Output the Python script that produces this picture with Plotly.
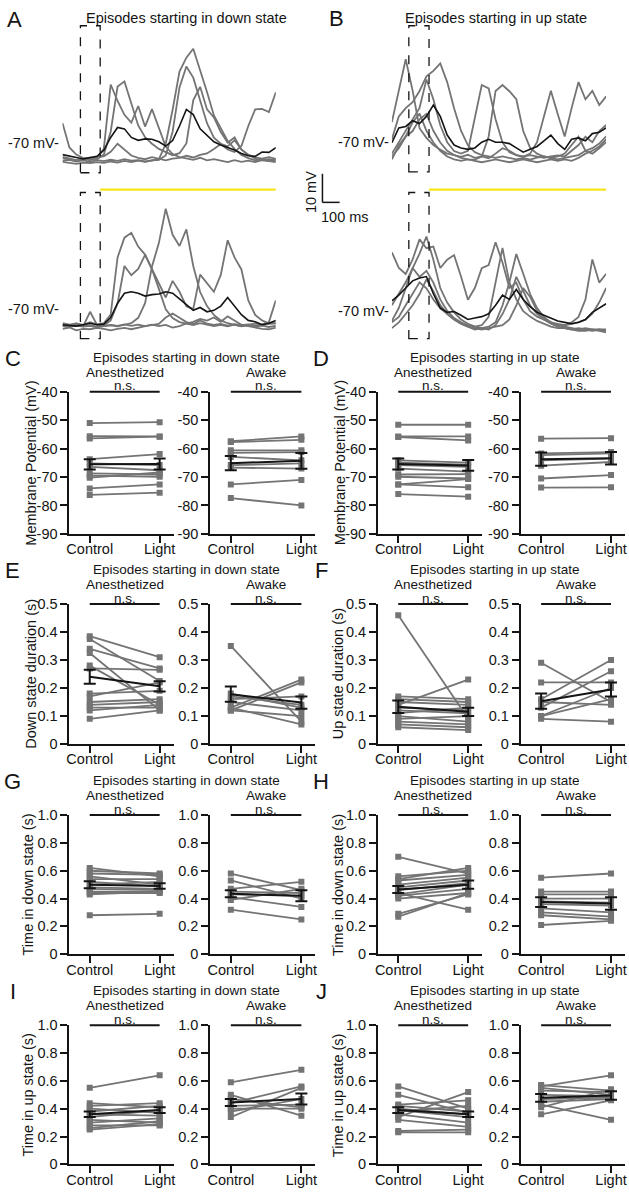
import plotly.graph_objects as go

# ------------------------------------------------------------------ data
# example membrane-potential traces (mV), sampled every 40 ms
time_ms = [0, 40, 80, 120, 160, 200, 240, 280, 320, 360, 400, 440, 480, 520, 560, 600,
           640, 680, 720, 760, 800, 840, 880, 920, 960, 1000, 1040, 1080, 1120, 1160, 1200, 1240]

# A: episodes starting in down state, control (top)
a_ctrl_1 = [-63.0, -71.5, -74.0, -75.2, -75.6, -74.8, -74.6, -73.0, -70.2, -72.1, -74.3, -75.1, -75.6, -74.9, -75.5, -76.0,
            -75.4, -75.1, -74.4, -75.0, -74.1, -73.6, -72.0, -70.3, -72.2, -73.1, -71.0, -64.0, -58.2, -58.0, -59.1, -52.2]
a_ctrl_2 = [-75.2, -75.6, -76.1, -75.4, -76.0, -75.1, -72.0, -49.5, -55.2, -60.1, -62.8, -57.0, -64.2, -58.1, -65.0, -71.2,
            -73.8, -74.9, -75.3, -75.8, -75.1, -76.0, -75.6, -76.2, -76.6, -75.9, -76.5, -76.1, -76.6, -75.9, -75.6, -76.2]
a_ctrl_3 = [-74.8, -75.3, -75.9, -75.5, -75.1, -75.6, -74.0, -66.0, -50.2, -48.4, -56.1, -63.8, -67.9, -70.2, -72.0, -73.1,
            -74.2, -73.5, -70.1, -55.0, -50.3, -58.2, -61.0, -66.1, -69.8, -68.0, -72.3, -74.1, -75.0, -75.4, -74.9, -75.5]
a_ctrl_4 = [-76.1, -75.8, -76.4, -76.0, -76.5, -75.9, -76.3, -75.8, -76.2, -75.6, -76.1, -75.9, -76.4, -76.0, -75.7, -70.2,
            -58.3, -45.0, -40.1, -37.0, -44.2, -52.1, -60.3, -65.0, -69.2, -72.0, -74.1, -75.2, -76.0, -75.6, -76.2, -75.7]
a_ctrl_5 = [-76.5, -76.9, -77.2, -76.8, -77.0, -76.6, -76.9, -76.4, -76.8, -76.2, -76.6, -76.1, -76.5, -76.0, -75.8, -74.3,
            -66.0, -50.5, -43.2, -47.1, -55.3, -63.0, -68.1, -70.2, -71.1, -69.0, -72.2, -74.0, -75.4, -76.0, -76.3, -76.6]
a_ctrl_mean = [-74.0, -74.6, -75.0, -75.5, -75.1, -74.6, -72.5, -68.0, -64.5, -65.0, -68.0, -69.0, -68.5, -68.6, -69.5, -71.0,
               -69.1, -64.0, -58.2, -60.0, -65.0, -67.4, -69.5, -70.6, -71.5, -72.4, -73.6, -74.4, -74.6, -73.1, -73.2, -71.6]

# A: light (bottom)
a_light_1 = [-75.0, -75.5, -75.1, -75.6, -74.6, -75.4, -75.0, -72.0, -52.0, -45.1, -43.4, -48.2, -51.0, -56.1, -63.0, -70.1,
             -73.2, -74.6, -75.1, -75.6, -75.0, -75.4, -76.0, -75.6, -76.1, -75.5, -76.0, -75.6, -75.1, -75.5, -74.6, -67.0]
a_light_2 = [-76.0, -76.3, -75.8, -76.2, -75.9, -76.4, -76.0, -75.7, -76.1, -75.6, -75.0, -73.1, -68.0, -55.2, -47.0, -35.0,
             -44.1, -48.0, -42.2, -55.0, -64.1, -69.0, -72.1, -74.0, -75.0, -75.6, -76.1, -75.7, -76.2, -75.8, -76.3, -75.9]
a_light_3 = [-75.8, -76.1, -75.6, -76.0, -75.7, -76.2, -75.8, -74.0, -68.1, -55.0, -58.2, -56.0, -51.1, -56.0, -61.1, -66.0,
             -60.2, -64.0, -69.1, -70.0, -58.0, -61.2, -64.0, -58.1, -46.0, -52.0, -56.2, -67.0, -72.1, -74.0, -75.1, -75.0]
a_light_4 = [-75.7, -76.0, -75.1, -76.1, -71.0, -75.5, -76.0, -75.6, -75.9, -75.4, -75.9, -75.5, -76.0, -75.6, -75.2, -73.0,
             -71.6, -73.1, -74.6, -75.3, -74.0, -75.1, -75.6, -75.2, -75.8, -75.3, -75.7, -75.4, -75.9, -75.5, -75.1, -75.0]
a_light_5 = [-77.0, -76.5, -77.5, -77.0, -77.1, -76.6, -77.0, -77.5, -77.0, -76.6, -77.1, -76.5, -76.1, -75.5, -76.0, -75.6,
             -76.5, -76.0, -75.1, -74.5, -73.5, -74.1, -73.0, -74.5, -72.6, -74.0, -75.5, -76.0, -76.6, -77.0, -77.1, -76.5]
a_light_mean = [-75.5, -75.8, -76.0, -75.5, -75.0, -75.5, -75.3, -73.0, -68.0, -64.5, -64.0, -64.5, -65.5, -65.0, -64.8, -64.0,
                -64.5, -66.5, -68.5, -70.5, -69.5, -71.0, -70.5, -69.0, -66.0, -69.0, -72.0, -74.0, -74.5, -75.5, -75.0, -74.0]

# B: episodes starting in up state, control (top)
b_ctrl_1 = [-63.0, -52.1, -41.0, -52.0, -65.1, -68.5, -71.0, -72.6, -74.0, -74.5, -75.1, -74.4, -75.5, -75.0, -75.6, -74.0,
            -72.1, -73.0, -74.5, -75.1, -74.0, -70.0, -61.1, -52.0, -60.2, -68.0, -58.1, -49.0, -55.0, -52.1, -57.0, -54.0]
b_ctrl_2 = [-69.0, -61.0, -58.1, -56.0, -52.1, -47.0, -45.1, -42.5, -49.0, -58.1, -66.0, -71.1, -73.5, -74.5, -75.0, -75.5,
            -75.0, -75.6, -76.0, -75.5, -76.1, -75.4, -75.0, -75.6, -76.0, -75.5, -75.0, -74.5, -73.0, -72.1, -70.5, -68.0]
b_ctrl_3 = [-74.0, -70.1, -66.0, -62.1, -58.0, -48.1, -55.0, -64.1, -70.0, -73.1, -74.0, -73.0, -62.1, -50.0, -51.2, -62.0,
            -70.1, -73.5, -74.5, -75.0, -74.5, -75.1, -75.5, -75.0, -74.6, -75.0, -73.1, -71.0, -68.1, -70.0, -66.1, -64.0]
b_ctrl_4 = [-76.0, -71.1, -68.0, -66.1, -62.0, -60.1, -66.0, -70.1, -73.0, -74.5, -75.5, -76.0, -76.1, -75.0, -68.0, -52.1,
            -50.0, -52.2, -55.0, -66.1, -72.0, -74.0, -75.0, -75.5, -75.0, -74.0, -71.0, -68.1, -73.0, -74.0, -72.1, -70.0]
b_ctrl_5 = [-75.0, -72.1, -68.0, -63.1, -60.0, -66.0, -70.1, -73.0, -75.0, -76.0, -76.5, -76.0, -76.5, -77.0, -76.5, -76.0,
            -76.5, -77.0, -76.5, -76.0, -76.5, -77.0, -76.5, -76.0, -76.5, -76.0, -76.5, -75.5, -74.0, -73.0, -71.5, -69.0]
b_ctrl_mean = [-70.2, -65.0, -64.5, -62.5, -63.5, -61.0, -57.0, -61.0, -67.5, -71.0, -72.0, -72.5, -72.0, -70.0, -69.0, -70.0,
               -70.0, -70.5, -72.0, -73.5, -72.5, -71.5, -69.5, -67.5, -70.5, -72.5, -69.0, -68.5, -69.5, -67.0, -66.5, -65.0]

# B: light (bottom)
b_light_1 = [-49.5, -55.0, -57.1, -52.0, -45.0, -48.1, -47.5, -55.0, -52.1, -50.5, -58.0, -66.1, -62.0, -55.1, -54.0, -46.0,
             -53.1, -62.0, -60.1, -66.0, -70.1, -72.0, -73.1, -74.0, -74.5, -75.0, -74.5, -74.0, -73.1, -71.0, -67.0, -62.0]
b_light_2 = [-68.0, -64.1, -60.0, -55.1, -50.0, -44.0, -52.1, -62.0, -67.1, -70.5, -73.0, -74.5, -75.5, -76.0, -75.5, -74.0,
             -68.1, -60.0, -50.1, -57.0, -64.1, -69.0, -72.1, -74.0, -75.0, -75.5, -76.0, -76.5, -76.0, -76.5, -76.5, -77.0]
b_light_3 = [-73.5, -69.0, -62.1, -55.0, -58.1, -56.0, -60.1, -66.0, -70.0, -72.5, -74.0, -75.0, -75.5, -75.0, -72.1, -60.0,
             -48.0, -60.1, -66.0, -70.1, -72.0, -73.5, -74.5, -75.5, -76.0, -76.0, -76.5, -76.0, -76.5, -77.0, -76.5, -76.5]
b_light_4 = [-74.0, -72.1, -68.0, -64.1, -60.0, -62.1, -66.0, -69.1, -71.0, -73.0, -74.5, -75.5, -76.0, -76.5, -76.0, -75.5,
             -75.0, -73.0, -68.1, -62.0, -65.1, -70.0, -72.5, -74.0, -75.0, -75.0, -74.0, -72.1, -66.0, -52.0, -60.1, -57.0]
b_light_5 = [-76.0, -74.0, -71.1, -68.0, -64.1, -59.0, -63.1, -68.0, -71.0, -73.0, -74.5, -75.5, -76.5, -76.0, -76.5, -75.0,
             -71.1, -66.0, -58.1, -63.0, -68.1, -71.0, -73.0, -74.5, -75.5, -76.0, -76.5, -77.0, -77.0, -76.5, -77.0, -77.5]
b_light_mean = [-66.5, -64.5, -62.0, -59.5, -58.5, -58.0, -64.0, -69.0, -70.5, -70.2, -71.5, -73.0, -72.5, -72.0, -71.0, -68.0,
                -64.5, -66.0, -62.5, -66.0, -68.5, -70.5, -71.5, -72.5, -73.5, -74.0, -74.5, -74.0, -73.0, -70.5, -69.0, -67.5]

# analysis window and light onset (ms)
a_window_ms = [104, 219]
b_window_ms = [98, 215]
scale_mv = 10
scale_ms = 100

# summary panels: paired values (Control, Light), mean and SEM
conditions = ["Control", "Light"]

C_anes_ctrl = [-51.0, -55.6, -56.4, -63.7, -65.2, -66.4, -68.7, -69.5, -70.2, -74.0, -76.3]
C_anes_light = [-50.7, -55.7, -55.8, -61.9, -65.8, -67.6, -69.1, -69.9, -68.4, -72.6, -75.5]
C_anes_mean, C_anes_sem = [-65.5, -65.4], [1.8, 1.9]
C_awake_ctrl = [-57.4, -57.7, -60.6, -61.5, -62.9, -65.8, -66.7, -72.6, -77.4]
C_awake_light = [-55.7, -56.9, -60.6, -61.2, -64.1, -65.2, -67.0, -71.0, -80.0]
C_awake_mean, C_awake_sem = [-65.1, -64.3], [2.5, 2.8]

D_anes_ctrl = [-51.6, -55.7, -55.9, -64.1, -64.9, -65.8, -67.0, -69.1, -69.9, -72.6, -72.6, -76.0]
D_anes_light = [-51.6, -55.7, -57.1, -64.9, -65.6, -66.4, -68.1, -69.0, -70.5, -70.7, -73.6, -76.9]
D_anes_mean, D_anes_sem = [-65.4, -65.9], [1.9, 1.9]
D_awake_ctrl = [-56.5, -61.7, -62.3, -64.1, -66.0, -70.5, -73.7]
D_awake_light = [-56.3, -61.2, -61.7, -63.5, -64.7, -69.3, -73.6]
D_awake_mean, D_awake_sem = [-63.7, -63.4], [2.3, 2.2]

E_anes_ctrl = [0.385, 0.375, 0.34, 0.325, 0.28, 0.27, 0.18, 0.17, 0.15, 0.14, 0.13, 0.12, 0.09]
E_anes_light = [0.31, 0.225, 0.27, 0.12, 0.14, 0.265, 0.19, 0.22, 0.16, 0.15, 0.13, 0.14, 0.12]
E_anes_mean, E_anes_sem = [0.24, 0.206], [0.025, 0.018]
E_awake_ctrl = [0.35, 0.13, 0.12, 0.17, 0.16, 0.15, 0.18, 0.12, 0.13]
E_awake_light = [0.08, 0.23, 0.22, 0.14, 0.17, 0.12, 0.13, 0.10, 0.07]
E_awake_mean, E_awake_sem = [0.178, 0.148], [0.027, 0.022]

F_anes_ctrl = [0.46, 0.17, 0.16, 0.15, 0.14, 0.13, 0.12, 0.11, 0.10, 0.09, 0.08, 0.07, 0.06]
F_anes_light = [0.09, 0.16, 0.15, 0.14, 0.23, 0.12, 0.11, 0.13, 0.08, 0.10, 0.07, 0.06, 0.05]
F_anes_mean, F_anes_sem = [0.133, 0.115], [0.022, 0.015]
F_awake_ctrl = [0.29, 0.22, 0.16, 0.15, 0.13, 0.10, 0.10, 0.09]
F_awake_light = [0.15, 0.22, 0.30, 0.14, 0.26, 0.20, 0.16, 0.08]
F_awake_mean, F_awake_sem = [0.153, 0.195], [0.027, 0.025]

G_anes_ctrl = [0.62, 0.60, 0.58, 0.56, 0.54, 0.52, 0.50, 0.48, 0.47, 0.45, 0.44, 0.43, 0.28]
G_anes_light = [0.56, 0.58, 0.57, 0.50, 0.54, 0.49, 0.52, 0.47, 0.46, 0.45, 0.44, 0.45, 0.29]
G_anes_mean, G_anes_sem = [0.50, 0.49], [0.025, 0.02]
G_awake_ctrl = [0.58, 0.53, 0.47, 0.45, 0.43, 0.41, 0.39, 0.32]
G_awake_light = [0.46, 0.40, 0.52, 0.44, 0.42, 0.34, 0.47, 0.25]
G_awake_mean, G_awake_sem = [0.435, 0.42], [0.025, 0.04]

H_anes_ctrl = [0.70, 0.56, 0.54, 0.53, 0.50, 0.48, 0.46, 0.44, 0.43, 0.42, 0.40, 0.29, 0.27]
H_anes_light = [0.58, 0.60, 0.62, 0.57, 0.55, 0.53, 0.51, 0.32, 0.50, 0.47, 0.44, 0.43, 0.44]
H_anes_mean, H_anes_sem = [0.465, 0.50], [0.025, 0.03]
H_awake_ctrl = [0.55, 0.45, 0.43, 0.40, 0.38, 0.36, 0.33, 0.30, 0.28, 0.21]
H_awake_light = [0.58, 0.45, 0.43, 0.40, 0.37, 0.35, 0.30, 0.27, 0.25, 0.24]
H_awake_mean, H_awake_sem = [0.375, 0.365], [0.035, 0.045]

I_anes_ctrl = [0.55, 0.44, 0.42, 0.40, 0.38, 0.36, 0.34, 0.32, 0.30, 0.28, 0.26, 0.25]
I_anes_light = [0.64, 0.41, 0.44, 0.37, 0.42, 0.35, 0.39, 0.30, 0.33, 0.28, 0.31, 0.29]
I_anes_mean, I_anes_sem = [0.36, 0.39], [0.02, 0.02]
I_awake_ctrl = [0.59, 0.50, 0.47, 0.44, 0.42, 0.40, 0.38, 0.34]
I_awake_light = [0.68, 0.35, 0.41, 0.56, 0.43, 0.40, 0.47, 0.55]
I_awake_mean, I_awake_sem = [0.445, 0.47], [0.025, 0.04]

J_anes_ctrl = [0.56, 0.50, 0.43, 0.42, 0.40, 0.39, 0.38, 0.36, 0.34, 0.32, 0.24, 0.23]
J_anes_light = [0.40, 0.37, 0.46, 0.38, 0.36, 0.34, 0.42, 0.30, 0.52, 0.27, 0.25, 0.23]
J_anes_mean, J_anes_sem = [0.39, 0.36], [0.02, 0.02]
J_awake_ctrl = [0.57, 0.56, 0.55, 0.53, 0.50, 0.47, 0.45, 0.43, 0.41, 0.36]
J_awake_light = [0.53, 0.64, 0.50, 0.52, 0.49, 0.48, 0.47, 0.32, 0.54, 0.46]
J_awake_mean, J_awake_sem = [0.478, 0.495], [0.028, 0.03]

mv_ticks = [-90, -80, -70, -60, -50, -40]
mv_labels = ["-90", "-80", "-70", "-60", "-50", "-40"]
dur_ticks = [0, 0.1, 0.2, 0.3, 0.4, 0.5]
dur_labels = ["0", "0.1", "0.2", "0.3", "0.4", "0.5"]
frac_ticks = [0, 0.2, 0.4, 0.6, 0.8, 1.0]
frac_labels = ["0", "0.2", "0.4", "0.6", "0.8", "1.0"]

# ------------------------------------------------------------------ style / layout helpers
W, H = 629, 1200
FONT = "Liberation Sans, Arial, Helvetica, sans-serif"
GRAY = "#747474"
BLACK = "#141414"
YELLOW = "#f6e41c"
FS = 14.5
FS_HEAD = 13.5


def fx(p):
    return p / W


def fy(p):
    return 1 - p / H


def sfx(n):
    return "" if n == 1 else str(n)


fig = go.Figure()
layout = {}
ann = []
shp = []


def text(x, y, s, size=FS, xref="paper", yref="paper", angle=0, xanchor="center"):
    ann.append(dict(x=x, y=y, xref=xref, yref=yref, text=s, showarrow=False,
                    font=dict(family=FONT, size=size, color=BLACK), textangle=angle,
                    xanchor=xanchor, yanchor="middle", borderpad=0))


# ------------------------------------------------------------------ example traces
PPM = 2.9  # px per mV
t_end = time_ms[-1]
trace_panels = [
    # n, x0, x1, ytop, ybot, y(-70 mV), label right edge, trials, mean, window, dashed box
    (1, 60, 275, 15, 175, 137, 57, [a_ctrl_1, a_ctrl_2, a_ctrl_3, a_ctrl_4, a_ctrl_5], a_ctrl_mean, a_window_ms, (18, 167)),
    (2, 60, 275, 185, 340, 305, 57, [a_light_1, a_light_2, a_light_3, a_light_4, a_light_5], a_light_mean, a_window_ms, (187, 335)),
    (3, 392, 608, 15, 175, 136, 390, [b_ctrl_1, b_ctrl_2, b_ctrl_3, b_ctrl_4, b_ctrl_5], b_ctrl_mean, b_window_ms, (18, 166)),
    (4, 392, 608, 185, 340, 307, 390, [b_light_1, b_light_2, b_light_3, b_light_4, b_light_5], b_light_mean, b_window_ms, (187, 335)),
]
for n, x0, x1, ytop, ybot, y70, lab_x, trials, mean, win, box in trace_panels:
    s = sfx(n)
    lo = -70 - (ybot - y70) / PPM
    hi = -70 + (y70 - ytop) / PPM
    layout["xaxis" + s] = dict(domain=[fx(x0), fx(x1)], range=[0, t_end], visible=False,
                               anchor="y" + s, fixedrange=True)
    layout["yaxis" + s] = dict(domain=[fy(ybot), fy(ytop)], range=[lo, hi], visible=False,
                               anchor="x" + s, fixedrange=True)
    for tr in trials:
        fig.add_trace(go.Scatter(x=time_ms, y=tr, mode="lines", xaxis="x" + s, yaxis="y" + s,
                                 line=dict(color=GRAY, width=1.8), hoverinfo="skip"))
    fig.add_trace(go.Scatter(x=time_ms, y=mean, mode="lines", xaxis="x" + s, yaxis="y" + s,
                             line=dict(color=BLACK, width=1.6), hoverinfo="skip"))
    text(fx(lab_x), -70, "-70 mV-", xref="paper", yref="y" + s, xanchor="right")
    shp.append(dict(type="rect", xref="x" + s, yref="paper", x0=win[0], x1=win[1],
                    y0=fy(box[1]), y1=fy(box[0]), line=dict(color=BLACK, width=1.3, dash="dash")))
    if n in (1, 3):
        # light stimulus bar (from end of window to end of trace)
        shp.append(dict(type="line", xref="x" + s, yref="paper", x0=win[1], x1=t_end,
                        y0=fy(184), y1=fy(184), line=dict(color=YELLOW, width=2.2)))

# scale bar
sb_x, sb_y = 322, 197
sb_h = scale_mv * PPM
sb_w = scale_ms * (275 - 60) / t_end
shp.append(dict(type="line", xref="paper", yref="paper", x0=fx(sb_x), x1=fx(sb_x),
                y0=fy(sb_y), y1=fy(sb_y - sb_h), line=dict(color=BLACK, width=1.5)))
shp.append(dict(type="line", xref="paper", yref="paper", x0=fx(sb_x), x1=fx(sb_x + sb_w),
                y0=fy(sb_y), y1=fy(sb_y), line=dict(color=BLACK, width=1.5)))
text(fx(310), fy(187), f"{scale_mv} mV", angle=-90)
text(fx(345), fy(212), f"{scale_ms} ms")

text(fx(185), fy(10), "Episodes starting in down state")
text(fx(497), fy(10), "Episodes starting in up state")
text(fx(12), fy(12), "A", size=22)
text(fx(336), fy(11), "B", size=22)

# ------------------------------------------------------------------ summary panels
rows_px = [(389, 533), (604, 746), (818, 959), (1031, 1172)]
left_dom = [(67, 172), (209, 315)]
right_dom = [(378, 483), (522, 627)]

panels = [
    ("C", 0, 0, "Episodes starting in down state", "Membrane Potential (mV)", [-90, -40], mv_ticks, mv_labels,
     [(C_anes_ctrl, C_anes_light, C_anes_mean, C_anes_sem), (C_awake_ctrl, C_awake_light, C_awake_mean, C_awake_sem)], 28),
    ("D", 1, 0, "Episodes starting in up state", "Membrane Potential (mV)", [-90, -40], mv_ticks, mv_labels,
     [(D_anes_ctrl, D_anes_light, D_anes_mean, D_anes_sem), (D_awake_ctrl, D_awake_light, D_awake_mean, D_awake_sem)], 340),
    ("E", 0, 1, "Episodes starting in down state", "Down state duration (s)", [0, 0.5], dur_ticks, dur_labels,
     [(E_anes_ctrl, E_anes_light, E_anes_mean, E_anes_sem), (E_awake_ctrl, E_awake_light, E_awake_mean, E_awake_sem)], 28),
    ("F", 1, 1, "Episodes starting in up state", "Up state duration (s)", [0, 0.5], dur_ticks, dur_labels,
     [(F_anes_ctrl, F_anes_light, F_anes_mean, F_anes_sem), (F_awake_ctrl, F_awake_light, F_awake_mean, F_awake_sem)], 338),
    ("G", 0, 2, "Episodes starting in down state", "Time in down state (s)", [0, 1.0], frac_ticks, frac_labels,
     [(G_anes_ctrl, G_anes_light, G_anes_mean, G_anes_sem), (G_awake_ctrl, G_awake_light, G_awake_mean, G_awake_sem)], 25),
    ("H", 1, 2, "Episodes starting in up state", "Time in down state (s)", [0, 1.0], frac_ticks, frac_labels,
     [(H_anes_ctrl, H_anes_light, H_anes_mean, H_anes_sem), (H_awake_ctrl, H_awake_light, H_awake_mean, H_awake_sem)], 337),
    ("I", 0, 3, "Episodes starting in down state", "Time in up state (s)", [0, 1.0], frac_ticks, frac_labels,
     [(I_anes_ctrl, I_anes_light, I_anes_mean, I_anes_sem), (I_awake_ctrl, I_awake_light, I_awake_mean, I_awake_sem)], 25),
    ("J", 1, 3, "Episodes starting in up state", "Time in up state (s)", [0, 1.0], frac_ticks, frac_labels,
     [(J_anes_ctrl, J_anes_light, J_anes_mean, J_anes_sem), (J_awake_ctrl, J_awake_light, J_awake_mean, J_awake_sem)], 337),
]
subtitles = ["Anesthetized", "Awake"]

n = 5
for letter, side, row, title, ytitle, yrange, tv, tt, groups, ytx in panels:
    top, bot = rows_px[row]
    doms = left_dom if side == 0 else right_dom
    for k, (ctrl, light, mean, sem) in enumerate(groups):
        s = sfx(n)
        x0, x1 = doms[k]
        axis_common = dict(showline=True, linecolor=BLACK, linewidth=2, ticks="outside", ticklen=7,
                           tickwidth=2, tickcolor=BLACK, showgrid=False, zeroline=False, fixedrange=True,
                           tickfont=dict(family=FONT, size=FS, color=BLACK))
        layout["xaxis" + s] = dict(domain=[fx(x0), fx(x1)], anchor="y" + s, type="category",
                                   categoryorder="array", categoryarray=conditions, range=[-0.29, 1.2],
                                   ticklabelstandoff=-6, **axis_common)
        layout["yaxis" + s] = dict(domain=[fy(bot), fy(top)], anchor="x" + s, range=yrange,
                                   tickmode="array", tickvals=tv, ticktext=tt, **axis_common)
        xs, ys = [], []
        for c, l in zip(ctrl, light):
            xs += [conditions[0], conditions[1], None]
            ys += [c, l, None]
        fig.add_trace(go.Scatter(x=xs, y=ys, mode="lines+markers", xaxis="x" + s, yaxis="y" + s,
                                 line=dict(color=GRAY, width=1.8), connectgaps=False,
                                 marker=dict(symbol="square", size=6, color=GRAY), hoverinfo="skip"))
        fig.add_trace(go.Scatter(x=conditions, y=mean, mode="lines", xaxis="x" + s, yaxis="y" + s,
                                 line=dict(color=BLACK, width=2),
                                 error_y=dict(type="data", array=sem, visible=True, color=BLACK,
                                              thickness=2, width=6),
                                 hoverinfo="skip"))
        # significance bar (at the top of the axis; paper y so it is not clipped) + labels
        shp.append(dict(type="line", xref="x" + s, yref="paper", x0=0, x1=1, y0=fy(top), y1=fy(top),
                        line=dict(color=BLACK, width=2)))
        text(0.5, fy(top - 6), "n.s.", xref="x" + s, size=FS_HEAD)
        text(0.5, fy(top - 20), subtitles[k], xref="x" + s, size=FS_HEAD)
        n += 1
    text(fx(185 if side == 0 else 496), fy(top - 35), title, size=FS_HEAD)
    text(fx(10 if side == 0 else 321), fy(top - 34), letter, size=22)
    text(fx(ytx), fy((top + bot) / 2), ytitle, angle=-90)

layout.update(dict(width=W, height=H, margin=dict(l=0, r=0, t=0, b=0, pad=0), autosize=False,
                   paper_bgcolor="white", plot_bgcolor="white", showlegend=False,
                   font=dict(family=FONT, size=FS, color=BLACK),
                   annotations=ann, shapes=shp))
fig.update_layout(**layout)
fig.write_html("out.html", config={"displayModeBar": False, "staticPlot": True},
               post_script="document.body.style.margin='0';document.body.style.padding='0';")
